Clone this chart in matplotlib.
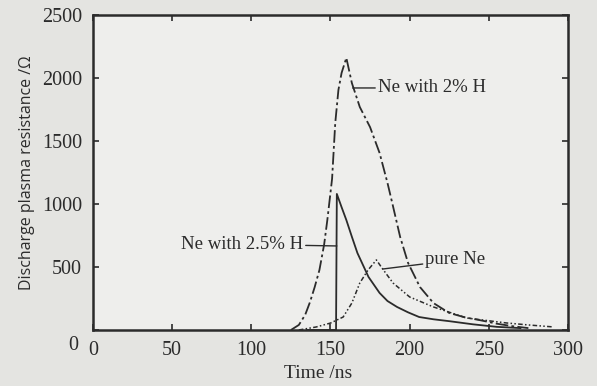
import matplotlib
matplotlib.use("Agg")
import matplotlib.pyplot as plt
import matplotlib.transforms as mtransforms

# time (ns) and discharge plasma resistance (ohm)
h2_t = [125, 130, 134, 137, 140, 143, 146, 148, 151, 153, 155, 157, 160, 163.5, 168.5,
        175, 181, 186, 189, 194, 199, 206.5, 215, 225, 235, 244, 255, 265, 275]
h2_v = [0, 40, 120, 220, 340, 476, 680, 873, 1200, 1643, 1905, 2040, 2160, 1960, 1770,
        1610, 1405, 1167, 1008, 738, 532, 341, 214, 135, 100, 79, 50, 30, 15]

h25_t = [135, 153.5, 154, 157, 160, 163.5, 167, 174, 181, 186, 192, 199, 206, 215,
         225, 240, 255, 270]
h25_v = [0, 0, 1080, 975, 873, 740, 611, 421, 294, 230, 183, 140, 103, 85,
         70, 45, 25, 15]

ne_t = [130, 141, 150, 158, 163.5, 168.5, 173.7, 179, 182.5, 189.5, 200, 215, 236,
        261, 275, 290]
ne_v = [0, 24, 55, 103, 214, 373, 476, 556, 492, 373, 262, 183, 95, 56, 40, 25]

xticks = [0, 50, 100, 150, 200, 250, 300]
yticks = [0, 500, 1000, 1500, 2000, 2500]

ink = "#2b2b2b"
serif = "Liberation Serif"

fig = plt.figure(figsize=(5.97, 3.86), dpi=100, facecolor="#e4e4e1")
ax = fig.add_axes([0.1558, 0.1451, 0.7956, 0.816])
ax.set_facecolor("#eeeeec")

ax.plot(h2_t, h2_v, color=ink, lw=1.3, ls=(0, (7, 1.8, 1.5, 1.8)))
ax.plot(h25_t, h25_v, color=ink, lw=1.3)
ax.plot(ne_t, ne_v, color=ink, lw=1.1, ls=(0, (3, 1.5, 1, 1.5, 1, 1.5)))

lead = dict(arrowstyle="-", color=ink, lw=1.0, shrinkA=0, shrinkB=0)
ax.annotate("Ne with 2% H", xy=(164, 1921), xytext=(180, 1921), ha="left",
            va="center", fontsize=13.5, family=serif, color=ink, arrowprops=lead)
ax.annotate("Ne with 2.5% H", xy=(154, 667), xytext=(132.6, 680), ha="right",
            va="center", fontsize=13.5, family=serif, color=ink, arrowprops=lead)
ax.annotate("pure Ne", xy=(183, 484), xytext=(210, 556), ha="left",
            va="center", fontsize=13.5, family=serif, color=ink, arrowprops=lead)

ax.set_xlim(0, 300)
ax.set_ylim(0, 2500)
ax.set_xticks(xticks)
ax.set_yticks(yticks)
ax.tick_params(direction="in", length=4.5, width=1.2, top=True, right=True,
               colors=ink, labelsize=14.5, pad=8)
for lab in ax.get_xticklabels() + ax.get_yticklabels():
    lab.set_family(serif)
# the zero on the y axis sits lower than its tick in the scan
ylabs = ax.get_yticklabels()
ylabs[0].set_transform(ylabs[0].get_transform() +
                       mtransforms.ScaledTranslation(-0.04, -13 / 100, fig.dpi_scale_trans))

for s in ax.spines.values():
    s.set_linewidth(1.8)
    s.set_color(ink)

ax.set_xlabel("Time /ns", family=serif, fontsize=14, color=ink)
ax.xaxis.set_label_coords(0.474, -0.112)
ax.set_ylabel("Discharge plasma resistance /Ω", family="Open Sans", fontsize=11.5,
              color=ink, labelpad=5)

fig.savefig("out.png", dpi=100, facecolor=fig.get_facecolor())
